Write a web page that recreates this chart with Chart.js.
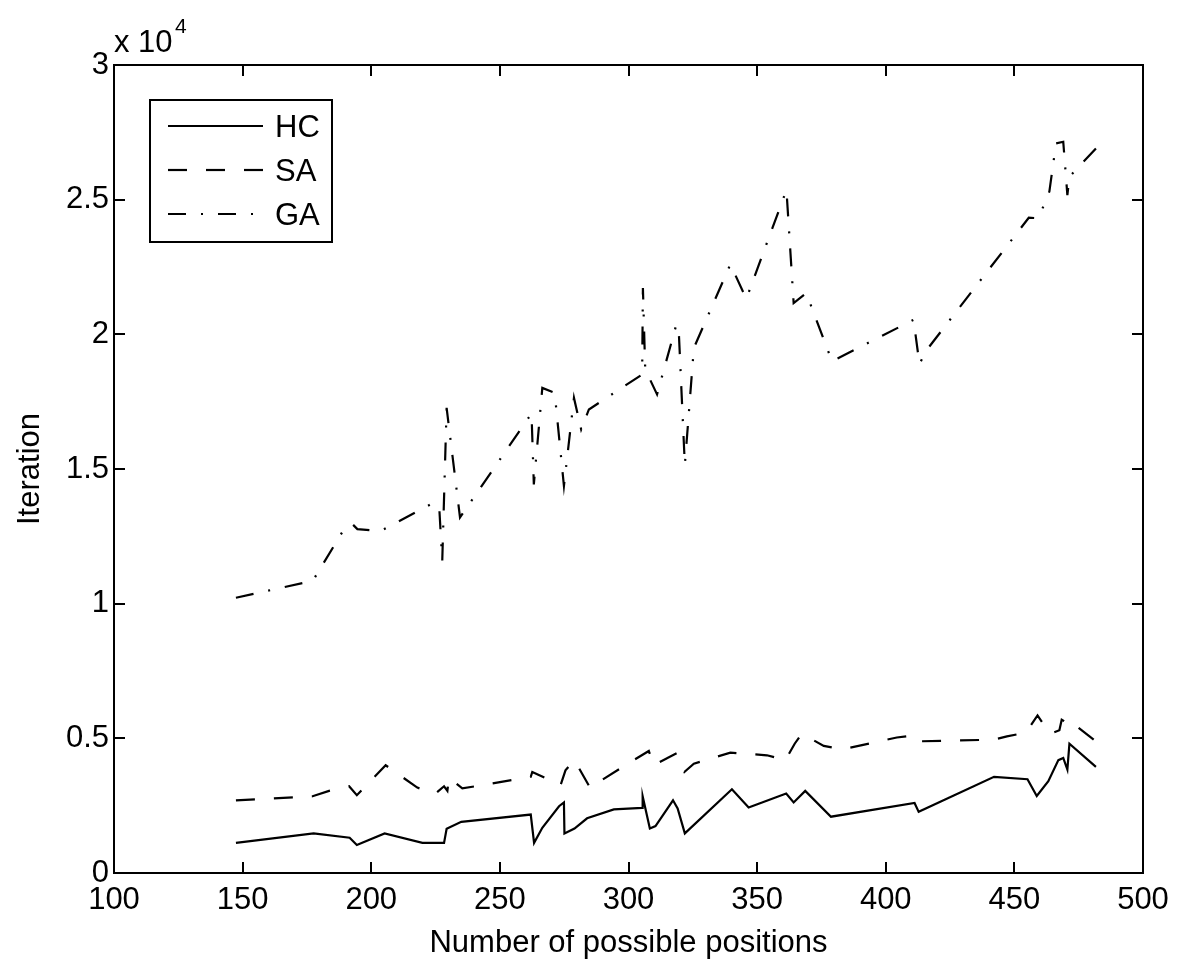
<!DOCTYPE html>
<html>
<head>
<meta charset="utf-8">
<script src="https://cdn.jsdelivr.net/npm/chart.js@4.4.1/dist/chart.umd.min.js"></script>
<style>
  html, body { margin: 0; padding: 0; background: #fff; }
  #wrap { width: 1200px; height: 966px; }
</style>
</head>
<body>
<div id="wrap"><canvas id="iterChart" width="1200" height="966"></canvas></div>
<script>
// values (iterations vs number of possible positions)
const hcPositions = [147.4, 177.6, 191.6, 194.4, 205.2, 219.9, 228.3, 229.3, 235, 262, 263.3, 266.5, 273, 274.9, 275.1, 279, 283.9, 294.3, 305.3, 305.5, 308.3, 310.5, 317.3, 319.1, 321.9, 340.2, 346.7, 361.3, 364.2, 368.7, 378.7, 411.2, 412.8, 442.1, 455.1, 458.7, 463.2, 467.1, 469, 470.6, 471.4, 481.7];
const hcIterations = [1120, 1470, 1310, 1040, 1470, 1120, 1120, 1640, 1900, 2170, 1120, 1680, 2480, 2620, 1470, 1650, 2030, 2360, 2420, 2850, 1650, 1740, 2700, 2400, 1470, 3110, 2430, 2950, 2620, 3050, 2090, 2600, 2270, 3570, 3480, 2860, 3410, 4190, 4270, 3840, 4800, 3940];

const saPositions = [147.4, 177.2, 183.6, 191.4, 194.4, 205.6, 217.9, 225, 228.3, 229.6, 230.2, 235.4, 262, 262.6, 273.6, 275.5, 278.8, 280.1, 285.2, 287.8, 300.8, 307.9, 309.8, 318.3, 321.7, 325.4, 339.6, 353.8, 361, 364.6, 367.4, 375.9, 383, 404.3, 411.5, 413.1, 441.9, 447.1, 454.4, 459, 463.9, 467.5, 468.4, 470, 471, 472.9, 481.7];
const saIterations = [2700, 2850, 3050, 3220, 2890, 4000, 3170, 2950, 3220, 3050, 3540, 3140, 3570, 3750, 3260, 3810, 4190, 4000, 3140, 3340, 4120, 4530, 4000, 4430, 3750, 4060, 4470, 4370, 4190, 4800, 5170, 4720, 4590, 5030, 5110, 4890, 4950, 5070, 5210, 5850, 5170, 5300, 5690, 5600, 5700, 5540, 4890];

const gaPositions = [147.4, 177.3, 189.7, 192.7, 194.6, 203.7, 223.1, 226.4, 227.6, 229.3, 234.5, 262.3, 263.2, 266.5, 271.3, 274.9, 278.8, 281.6, 284.6, 305.3, 305.6, 306.5, 311.1, 318.6, 319.5, 321.9, 325.4, 339.6, 345.8, 361.4, 364.2, 369.1, 379.1, 410.8, 413.1, 416, 455.6, 459.4, 463.6, 466.2, 469, 470.6, 471.4, 481.7];
const gaIterations = [10220, 10850, 12810, 12950, 12770, 12700, 13690, 13630, 11590, 17270, 13200, 17060, 14430, 18010, 17830, 14370, 17640, 16470, 17210, 18510, 21720, 18700, 17770, 20360, 20200, 15150, 19490, 22600, 21320, 25360, 21160, 21530, 19000, 20540, 18900, 19430, 24330, 24310, 25300, 27090, 27150, 25170, 25850, 26900];

const seriesNames = ['HC', 'SA', 'GA'];
const xTicks = [100, 150, 200, 250, 300, 350, 400, 450, 500];
const yTicks = [0, 5000, 10000, 15000, 20000, 25000, 30000];

const FONT = '"Liberation Sans", Arial, Helvetica, sans-serif';

function toPoints(xs, ys) {
    return xs.map((x, i) => ({ x: x, y: ys[i] }));
}

// inward ticks, box frame, legend and the x 10^4 label, matlab style
const matlabFrame = {
    id: 'matlabFrame',
    afterDraw(chart) {
        const c = chart.ctx;
        const a = chart.chartArea;
        const xs = chart.scales.x, ys = chart.scales.y;
        c.save();
        c.strokeStyle = '#000';
        c.lineWidth = 2;
        c.strokeRect(a.left, a.top, a.right - a.left, a.bottom - a.top);
        c.beginPath();
        xTicks.forEach(v => {
            const px = Math.round(xs.getPixelForValue(v));
            c.moveTo(px, a.bottom); c.lineTo(px, a.bottom - 11);
            c.moveTo(px, a.top); c.lineTo(px, a.top + 11);
        });
        yTicks.forEach(v => {
            const py = Math.round(ys.getPixelForValue(v));
            c.moveTo(a.left, py); c.lineTo(a.left + 11, py);
            c.moveTo(a.right, py); c.lineTo(a.right - 11, py);
        });
        c.stroke();

        // exponent label
        c.fillStyle = '#000';
        c.textBaseline = 'alphabetic';
        c.textAlign = 'left';
        c.font = '31px ' + FONT;
        c.fillText('x 10', 114, 52);
        c.font = '21px ' + FONT;
        c.fillText('4', 175, 33);

        // legend box
        const lx = 150, ly = 100, lw = 182, lh = 142;
        c.fillStyle = '#fff';
        c.fillRect(lx, ly, lw, lh);
        c.lineWidth = 2;
        c.strokeRect(lx, ly, lw, lh);
        chart.data.datasets.forEach((ds, i) => {
            const y = 126 + i * 44;
            c.beginPath();
            c.setLineDash(ds.borderDash || []);
            c.lineWidth = ds.borderWidth;
            c.moveTo(168, y); c.lineTo(263, y);
            c.stroke();
            c.setLineDash([]);
            c.fillStyle = '#000';
            c.font = '31px ' + FONT;
            c.textBaseline = 'middle';
            c.fillText(ds.label, 275, y + 2);
        });
        c.restore();
    }
};

const ctx = document.getElementById('iterChart').getContext('2d');
const iterChart = new Chart(ctx, {
    type: 'line',
    data: {
        datasets: [{
            label: seriesNames[0],
            data: toPoints(hcPositions, hcIterations),
            borderColor: '#000',
            borderWidth: 2.2,
            borderDash: []
        }, {
            label: seriesNames[1],
            data: toPoints(saPositions, saIterations),
            borderColor: '#000',
            borderWidth: 2.2,
            borderDash: [19, 19]
        }, {
            label: seriesNames[2],
            data: toPoints(gaPositions, gaIterations),
            borderColor: '#000',
            borderWidth: 2.2,
            borderDash: [18, 15, 2, 15]
        }]
    },
    options: {
        responsive: false,
        animation: false,
        elements: {
            point: { radius: 0 },
            line: { tension: 0, fill: false }
        },
        layout: {
            padding: { top: 65, right: 57, bottom: 0, left: 0 }
        },
        scales: {
            x: {
                type: 'linear',
                min: 100,
                max: 500,
                afterFit: s => { s.height = 93; },
                afterBuildTicks: s => { s.ticks = xTicks.map(v => ({ value: v })); },
                grid: { drawOnChartArea: false, drawTicks: false },
                border: { display: false },
                ticks: { color: '#000', font: { family: FONT, size: 31 }, padding: 9, maxRotation: 0 },
                title: {
                    display: true,
                    text: 'Number of possible positions',
                    color: '#000',
                    font: { family: FONT, size: 31 },
                    padding: { top: 0, bottom: 4 }
                }
            },
            y: {
                type: 'linear',
                min: 0,
                max: 30000,
                afterFit: s => { s.width = 114; },
                afterBuildTicks: s => { s.ticks = yTicks.map(v => ({ value: v })); },
                grid: { drawOnChartArea: false, drawTicks: false },
                border: { display: false },
                ticks: {
                    color: '#000',
                    font: { family: FONT, size: 31 },
                    padding: 5,
                    callback: v => String(v / 10000)
                },
                title: {
                    display: true,
                    text: 'Iteration',
                    color: '#000',
                    font: { family: FONT, size: 31 },
                    padding: { top: 12, bottom: 0 }
                }
            }
        },
        plugins: {
            legend: { display: false },
            tooltip: { enabled: false }
        }
    },
    plugins: [matlabFrame]
});
</script>
</body>
</html>
